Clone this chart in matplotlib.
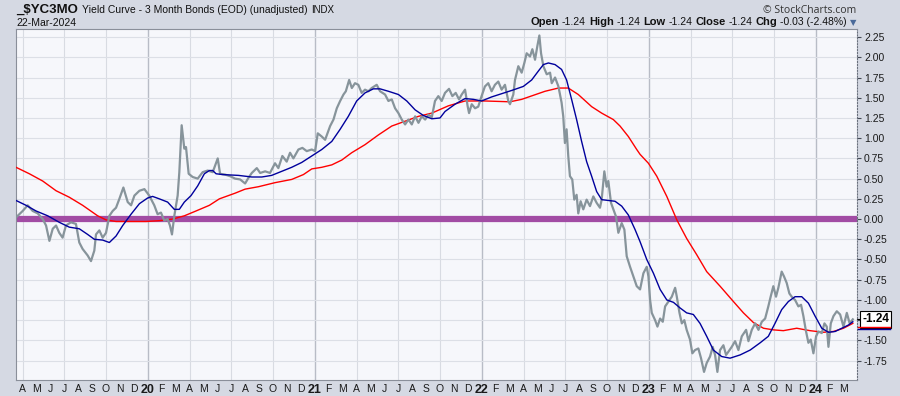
import matplotlib
matplotlib.use("Agg")
import matplotlib.pyplot as plt
from matplotlib.transforms import blended_transform_factory

plt.rcParams['font.family'] = ['Liberation Sans', 'DejaVu Sans']

# decimal-year dates and values
price_t = [2019.211, 2019.251, 2019.281, 2019.311, 2019.341, 2019.371, 2019.391, 2019.411, 2019.431, 2019.451,
           2019.470, 2019.490, 2019.510, 2019.540, 2019.570, 2019.590, 2019.610, 2019.640, 2019.660, 2019.680,
           2019.690, 2019.710, 2019.730, 2019.750, 2019.770, 2019.790, 2019.810, 2019.830, 2019.854, 2019.880,
           2019.900, 2019.920, 2019.950, 2019.980, 2020.009, 2020.039, 2020.059, 2020.079, 2020.099, 2020.119,
           2020.133, 2020.145, 2020.159, 2020.179, 2020.189, 2020.203, 2020.219, 2020.229, 2020.245, 2020.269,
           2020.299, 2020.329, 2020.359, 2020.389, 2020.419, 2020.433, 2020.463, 2020.493, 2020.523, 2020.553,
           2020.583, 2020.603, 2020.623, 2020.653, 2020.673, 2020.703, 2020.732, 2020.762, 2020.782, 2020.806,
           2020.832, 2020.852, 2020.872, 2020.902, 2020.926, 2020.952, 2020.982, 2021.002, 2021.018, 2021.042,
           2021.062, 2021.092, 2021.112, 2021.132, 2021.152, 2021.172, 2021.186, 2021.206, 2021.222, 2021.241,
           2021.261, 2021.281, 2021.301, 2021.321, 2021.341, 2021.371, 2021.391, 2021.421, 2021.441, 2021.461,
           2021.481, 2021.501, 2021.521, 2021.541, 2021.561, 2021.581, 2021.601, 2021.621, 2021.641, 2021.661,
           2021.681, 2021.701, 2021.720, 2021.740, 2021.760, 2021.780, 2021.804, 2021.824, 2021.844, 2021.864,
           2021.880, 2021.900, 2021.916, 2021.924, 2021.940, 2021.960, 2021.979, 2021.999, 2022.019, 2022.039,
           2022.059, 2022.079, 2022.099, 2022.119, 2022.139, 2022.159, 2022.169, 2022.189, 2022.199, 2022.219,
           2022.239, 2022.255, 2022.269, 2022.289, 2022.303, 2022.319, 2022.333, 2022.345, 2022.355, 2022.369,
           2022.389, 2022.409, 2022.419, 2022.439, 2022.459, 2022.478, 2022.488, 2022.498, 2022.508, 2022.518,
           2022.528, 2022.542, 2022.554, 2022.568, 2022.578, 2022.592, 2022.608, 2022.628, 2022.648, 2022.668,
           2022.688, 2022.708, 2022.718, 2022.734, 2022.748, 2022.758, 2022.774, 2022.788, 2022.804, 2022.818,
           2022.838, 2022.854, 2022.868, 2022.888, 2022.908, 2022.928, 2022.948, 2022.968, 2022.988, 2022.998,
           2023.008, 2023.018, 2023.038, 2023.052, 2023.068, 2023.084, 2023.098, 2023.118, 2023.138, 2023.158,
           2023.168, 2023.184, 2023.198, 2023.213, 2023.227, 2023.247, 2023.261, 2023.277, 2023.297, 2023.313,
           2023.331, 2023.347, 2023.367, 2023.383, 2023.397, 2023.411, 2023.427, 2023.447, 2023.463, 2023.477,
           2023.497, 2023.517, 2023.537, 2023.557, 2023.583, 2023.597, 2023.617, 2023.637, 2023.657, 2023.677,
           2023.697, 2023.716, 2023.730, 2023.746, 2023.762, 2023.776, 2023.796, 2023.810, 2023.826, 2023.842,
           2023.856, 2023.876, 2023.896, 2023.912, 2023.926, 2023.940, 2023.956, 2023.970, 2023.986, 2024.002,
           2024.016, 2024.036, 2024.052, 2024.066, 2024.076, 2024.090, 2024.106, 2024.126, 2024.146, 2024.166,
           2024.186, 2024.203, 2024.222]
price_v = [0.02, 0.10, 0.17, 0.10, 0.07, 0.00, -0.08, -0.27, -0.12, -0.08,
           -0.17, -0.23, -0.08, -0.04, -0.06, -0.29, -0.37, -0.45, -0.52, -0.39,
           -0.19, -0.14, -0.23, -0.17, 0.04, 0.10, 0.14, 0.25, 0.39, 0.21,
           0.17, 0.29, 0.35, 0.37, 0.29, 0.17, 0.06, 0.08, -0.02, 0.00,
           -0.08, -0.19, 0.04, 0.29, 0.58, 1.16, 0.87, 0.89, 0.56, 0.52,
           0.50, 0.58, 0.60, 0.58, 0.75, 0.56, 0.55, 0.53, 0.50, 0.49,
           0.44, 0.51, 0.57, 0.63, 0.57, 0.59, 0.57, 0.69, 0.63, 0.78,
           0.71, 0.82, 0.75, 0.86, 0.88, 0.84, 0.86, 0.84, 1.06, 1.02,
           0.98, 1.15, 1.23, 1.37, 1.46, 1.54, 1.58, 1.72, 1.62, 1.68,
           1.66, 1.56, 1.60, 1.58, 1.62, 1.66, 1.58, 1.54, 1.46, 1.48,
           1.37, 1.31, 1.23, 1.17, 1.23, 1.17, 1.27, 1.19, 1.27, 1.23,
           1.29, 1.26, 1.46, 1.52, 1.46, 1.56, 1.61, 1.52, 1.56, 1.48,
           1.54, 1.60, 1.39, 1.31, 1.42, 1.37, 1.39, 1.52, 1.64, 1.68,
           1.58, 1.66, 1.70, 1.60, 1.66, 1.46, 1.42, 1.54, 1.72, 1.89,
           1.81, 1.93, 2.05, 2.01, 2.10, 1.97, 2.14, 2.27, 2.05, 1.89,
           1.79, 1.81, 1.68, 1.75, 1.64, 1.44, 1.27, 0.94, 1.11, 0.78,
           0.53, 0.49, 0.24, 0.30, 0.07, 0.22, 0.12, 0.24, 0.16, 0.28,
           0.20, 0.14, 0.24, 0.59, 0.40, 0.47, 0.20, 0.12, 0.03, -0.17,
           -0.05, -0.13, -0.46, -0.59, -0.71, -0.83, -0.87, -0.67, -0.59, -0.71,
           -1.00, -1.16, -1.25, -1.33, -1.23, -1.27, -1.08, -1.02, -0.96, -0.85,
           -0.96, -1.16, -1.29, -1.25, -1.37, -1.49, -1.66, -1.62, -1.60, -1.72,
           -1.89, -1.78, -1.70, -1.58, -1.68, -1.89, -1.62, -1.56, -1.68, -1.64,
           -1.58, -1.51, -1.62, -1.45, -1.37, -1.51, -1.37, -1.29, -1.37, -1.27,
           -1.23, -1.08, -0.96, -0.83, -0.96, -0.85, -0.65, -0.71, -0.79, -0.92,
           -0.96, -1.00, -1.08, -1.06, -1.20, -1.37, -1.53, -1.49, -1.66, -1.45,
           -1.39, -1.41, -1.29, -1.33, -1.58, -1.29, -1.20, -1.14, -1.18, -1.33,
           -1.16, -1.29, -1.24]

ma50_t = [2019.211, 2019.271, 2019.331, 2019.401, 2019.470, 2019.530, 2019.590, 2019.640, 2019.680, 2019.730,
          2019.770, 2019.810, 2019.850, 2019.900, 2019.950, 2019.999, 2020.029, 2020.069, 2020.119, 2020.159,
          2020.189, 2020.219, 2020.259, 2020.299, 2020.339, 2020.369, 2020.389, 2020.409, 2020.449, 2020.543,
          2020.623, 2020.683, 2020.742, 2020.802, 2020.862, 2020.922, 2020.982, 2021.042, 2021.102, 2021.152,
          2021.201, 2021.251, 2021.301, 2021.351, 2021.391, 2021.441, 2021.501, 2021.551, 2021.601, 2021.651,
          2021.701, 2021.750, 2021.780, 2021.840, 2021.900, 2021.950, 2021.999, 2022.059, 2022.119, 2022.179,
          2022.249, 2022.299, 2022.339, 2022.369, 2022.399, 2022.439, 2022.478, 2022.508, 2022.538, 2022.568,
          2022.598, 2022.628, 2022.658, 2022.688, 2022.718, 2022.758, 2022.798, 2022.838, 2022.878, 2022.918,
          2022.948, 2022.988, 2023.028, 2023.068, 2023.108, 2023.148, 2023.188, 2023.227, 2023.267, 2023.307,
          2023.347, 2023.387, 2023.437, 2023.487, 2023.547, 2023.607, 2023.667, 2023.716, 2023.756, 2023.796,
          2023.836, 2023.876, 2023.916, 2023.956, 2023.996, 2024.036, 2024.076, 2024.116, 2024.156, 2024.196,
          2024.222]
ma50_v = [0.23, 0.17, 0.10, 0.04, -0.04, -0.10, -0.12, -0.19, -0.25, -0.26,
          -0.29, -0.21, -0.08, 0.06, 0.19, 0.26, 0.28, 0.25, 0.21, 0.12,
          0.12, 0.21, 0.29, 0.41, 0.56, 0.60, 0.60, 0.56, 0.55, 0.54,
          0.52, 0.52, 0.54, 0.59, 0.64, 0.70, 0.78, 0.86, 0.96, 1.11,
          1.27, 1.46, 1.56, 1.61, 1.61, 1.58, 1.54, 1.46, 1.35, 1.28,
          1.24, 1.25, 1.33, 1.42, 1.49, 1.48, 1.46, 1.51, 1.55, 1.59,
          1.64, 1.72, 1.83, 1.91, 1.93, 1.91, 1.85, 1.72, 1.48, 1.23,
          0.96, 0.71, 0.53, 0.34, 0.24, 0.23, 0.22, 0.16, 0.05, -0.13,
          -0.28, -0.50, -0.67, -0.87, -1.00, -1.03, -1.10, -1.16, -1.18, -1.29,
          -1.45, -1.62, -1.70, -1.72, -1.68, -1.62, -1.53, -1.45, -1.29, -1.12,
          -1.02, -0.96, -0.96, -1.04, -1.20, -1.35, -1.40, -1.39, -1.35, -1.31,
          -1.27]

ma200_t = [2019.211, 2019.291, 2019.371, 2019.451, 2019.530, 2019.610, 2019.700, 2019.750, 2019.810, 2019.990,
           2020.069, 2020.149, 2020.219, 2020.289, 2020.369, 2020.429, 2020.523, 2020.583, 2020.663, 2020.762,
           2020.862, 2020.932, 2020.982, 2021.042, 2021.102, 2021.162, 2021.221, 2021.301, 2021.381, 2021.461,
           2021.541, 2021.621, 2021.701, 2021.800, 2021.900, 2022.019, 2022.169, 2022.239, 2022.309, 2022.379,
           2022.459, 2022.518, 2022.578, 2022.658, 2022.718, 2022.788, 2022.828, 2022.878, 2022.928, 2022.948,
           2022.998, 2023.048, 2023.108, 2023.168, 2023.227, 2023.287, 2023.347, 2023.427, 2023.507, 2023.567,
           2023.627, 2023.687, 2023.746, 2023.806, 2023.886, 2023.966, 2024.046, 2024.106, 2024.166, 2024.222]
ma200_v = [0.64, 0.56, 0.47, 0.35, 0.27, 0.17, 0.04, -0.01, -0.03, -0.03,
           -0.02, 0.00, 0.04, 0.10, 0.17, 0.25, 0.32, 0.37, 0.40, 0.45,
           0.49, 0.55, 0.62, 0.64, 0.67, 0.73, 0.82, 0.92, 1.04, 1.15,
           1.21, 1.27, 1.31, 1.40, 1.46, 1.46, 1.45, 1.48, 1.53, 1.58,
           1.62, 1.62, 1.54, 1.39, 1.31, 1.23, 1.15, 1.02, 0.86, 0.80,
           0.69, 0.53, 0.28, -0.01, -0.24, -0.44, -0.65, -0.83, -1.02, -1.16,
           -1.28, -1.35, -1.37, -1.38, -1.35, -1.38, -1.40, -1.39, -1.35, -1.29]

y_ticks = [-1.75, -1.5, -1.25, -1.0, -0.75, -0.5, -0.25, 0.0, 0.25, 0.5, 0.75, 1.0, 1.25, 1.5, 1.75, 2.0, 2.25]
month_letters = ['J', 'F', 'M', 'A', 'M', 'J', 'J', 'A', 'S', 'O', 'N', 'D']
last_close = -1.24

fig = plt.figure(figsize=(9, 3.96), dpi=100, facecolor='#d5d9e3')
ax = fig.add_axes([16 / 900, 16 / 396, 841 / 900, 351 / 396])
ax.set_facecolor('#f6f7fb')

# grid: light quarter lines, darker year lines
for yr in range(2019, 2025):
    for q in (0, 3, 6, 9):
        xv = yr + q / 12
        ax.axvline(xv, color='#b8bcc6' if q == 0 else '#d8dbe2', lw=1.0 if q == 0 else 0.8, zorder=0)
for yv in y_ticks:
    ax.axhline(yv, color='#dcdfe6', lw=0.8, zorder=0)

ax.axhline(0, xmin=0, xmax=0.996, color='#a24ca4', lw=4.5, zorder=2)
ax.plot(ma200_t, ma200_v, color='#ff0000', lw=1.0, zorder=3)
ax.plot(price_t, price_v, color='#87949b', lw=1.6, zorder=4)
ax.plot(ma50_t, ma50_v, color='#00009c', lw=1.0, zorder=5)

ax.set_xlim(2019.211, 2024.247)
ax.set_ylim(-1.99, 2.35)

ax.yaxis.tick_right()
ax.set_yticks(y_ticks)
# the -1.25 label sits under the last-value tag, as in the original
ax.set_yticklabels(['' if v == -1.25 else f'{v:.2f}' for v in y_ticks])
ax.tick_params(axis='y', labelsize=7.5, length=3, pad=2, colors='#444a55', labelcolor='#1a1a1a')

# month ticks with letters, year ticks with 2-digit bold label
xt, xl = [], []
for yr in range(2019, 2025):
    for m in range(12):
        xv = yr + m / 12
        if 2019.2 < xv < 2024.24:
            xt.append(xv)
            xl.append(str(yr)[2:] if m == 0 else month_letters[m])
ax.set_xticks(xt)
ax.set_xticklabels(xl)
ax.tick_params(axis='x', labelsize=7.5, length=0, pad=3, labelcolor='#1a1a1a')
for lab in ax.get_xticklabels():
    if lab.get_text().isdigit():
        lab.set_fontweight('bold')
        lab.set_fontsize(9)

for s in ('left', 'top', 'bottom'):
    ax.spines[s].set_color('#8a8f9a')
ax.spines['right'].set_color('#6a707c')
ax.spines['right'].set_linestyle(':')

# last value tag on the right axis
tr = blended_transform_factory(ax.transAxes, ax.transData)
ax.text(1.006, last_close, '-1.24', transform=tr, ha='left', va='center', fontsize=8.5, fontweight='bold',
        color='black', zorder=10, clip_on=False,
        bbox=dict(boxstyle='square,pad=0.2', fc='white', ec='black', lw=0.8))
ax.plot([1.0, 1.006], [last_close, last_close], transform=tr, color='black', lw=0.8, clip_on=False)
ax.plot([1.001, 1.039], [last_close - 0.095, last_close - 0.095], transform=tr, color='red', lw=1.0,
        clip_on=False, zorder=11)
ax.plot([1.001, 1.039], [last_close - 0.12, last_close - 0.12], transform=tr, color='#00009c', lw=1.0,
        clip_on=False, zorder=11)

# header texts
fig.canvas.draw()
renderer = fig.canvas.get_renderer()


def run_left(pieces, x0, y):
    x = x0 / 900
    for txt, size, weight in pieces:
        t = fig.text(x, y, txt, fontsize=size, fontweight=weight, ha='left', va='baseline', color='#111111')
        w = t.get_window_extent(renderer).width
        x += (w + 4) / 900


def run_right(pieces, x1, y):
    x = x1 / 900
    for txt, size, weight in reversed(pieces):
        t = fig.text(x, y, txt, fontsize=size, fontweight=weight, ha='right', va='baseline', color='#111111')
        w = t.get_window_extent(renderer).width
        x -= (w + 3) / 900


run_left([(r'_\$YC3MO', 9.5, 'bold'),
          ('Yield Curve - 3 Month Bonds (EOD) (unadjusted)', 7.5, 'normal'),
          ('INDX', 7, 'normal')], 16, 1 - 13 / 396)
fig.text(16 / 900, 1 - 26 / 396, '22-Mar-2024', fontsize=7.5, ha='left', va='baseline', color='#111111')
fig.text(856 / 900, 1 - 13 / 396, '\u00a9 StockCharts.com', fontsize=7.5, ha='right', va='baseline',
         color='#333333', family=['Open Sans', 'DejaVu Sans'])
run_right([('Open', 8, 'bold'), ('-1.24', 7.5, 'normal'),
           ('High', 8, 'bold'), ('-1.24', 7.5, 'normal'),
           ('Low', 8, 'bold'), ('-1.24', 7.5, 'normal'),
           ('Close', 8, 'bold'), ('-1.24', 7.5, 'normal'),
           ('Chg', 8, 'bold'), ('-0.03 (-2.48%)', 7.5, 'normal')], 847, 1 - 25 / 396)
fig.text(856 / 900, 1 - 25 / 396, '\u25bc', fontsize=6, ha='right', va='baseline', color='#4a6a9a',
         family=['DejaVu Sans'])

fig.savefig('out.png', dpi=100, facecolor=fig.get_facecolor())
